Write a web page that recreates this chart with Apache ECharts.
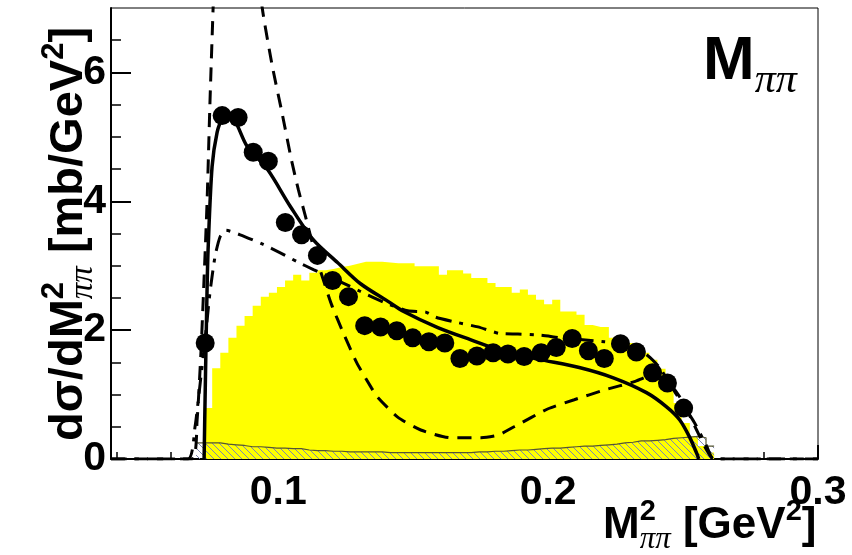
<!DOCTYPE html>
<html>
<head>
<meta charset="utf-8">
<script src="https://cdn.jsdelivr.net/npm/echarts@6/dist/echarts.min.js"></script>
<style>html,body{margin:0;padding:0;background:#fff}#c{width:852px;height:555px}</style>
</head>
<body>
<div id="c"></div>
<script>
// ---------- data ----------
const binWidth = 0.003;
const yellowStart = 0.0725;
const yellowHeights = [0.79,1.41,1.65,1.88,2.07,2.22,2.38,2.52,2.58,2.67,2.77,2.86,2.77,2.89,2.93,2.95,2.98,3.0,3.03,3.06,3.06,3.06,3.05,3.04,3.04,3.04,2.99,2.99,2.99,2.86,2.93,2.93,2.88,2.81,2.81,2.73,2.67,2.67,2.58,2.63,2.55,2.47,2.40,2.47,2.29,2.29,2.24,2.08,2.05,2.05,1.88,1.85,1.80,1.74,1.65,1.54,1.40,1.28,0.87,0.56,0.35,0.20,0.10];
const hatchStart = 0.0695;
const hatchHeights = [0.25,0.25,0.25,0.23,0.22,0.21,0.19,0.19,0.18,0.17,0.17,0.16,0.16,0.14,0.13,0.13,0.12,0.12,0.11,0.11,0.11,0.11,0.11,0.10,0.10,0.10,0.10,0.10,0.10,0.10,0.10,0.10,0.10,0.10,0.11,0.11,0.12,0.12,0.13,0.14,0.14,0.15,0.16,0.17,0.17,0.18,0.19,0.20,0.20,0.21,0.22,0.23,0.25,0.26,0.28,0.28,0.29,0.30,0.32,0.33,0.34,0.35,0.33,0.20];

const pointsX = [0.0729,0.0792,0.0851,0.0907,0.0963,0.1026,0.1086,0.1145,0.1201,0.1260,0.1320,0.1379,0.1439,0.1498,0.1558,0.1617,0.1673,0.1736,0.1796,0.1851,0.1911,0.1974,0.2030,0.2089,0.2149,0.2208,0.2268,0.2327,0.2387,0.2442,0.2502];
const pointsY = [1.80,5.33,5.30,4.76,4.62,3.67,3.48,3.16,2.77,2.52,2.07,2.05,1.99,1.88,1.82,1.80,1.56,1.60,1.65,1.63,1.59,1.65,1.73,1.87,1.68,1.56,1.79,1.66,1.34,1.18,0.79];

const solidX = [0.0725,0.07286,0.07323,0.0736,0.07398,0.07546,0.07732,0.07918,0.08141,0.08401,0.08848,0.09591,0.10446,0.11301,0.12193,0.13048,0.14052,0.14647,0.15911,0.17138,0.18364,0.19628,0.21152,0.22416,0.23643,0.24387,0.2487,0.25242,0.25502,0.2558];
const solidY = [0,0.92,1.80,2.63,3.25,4.54,5.07,5.27,5.32,5.24,4.85,4.50,3.92,3.40,3.05,2.72,2.45,2.29,2.04,1.85,1.67,1.55,1.42,1.26,1.03,0.81,0.61,0.34,0.09,0];

const dashedX = [0.038,0.068,0.0699,0.07138,0.07249,0.07361,0.07472,0.07584,0.07695,0.07918,0.08216,0.08587,0.08959,0.09405,0.09777,0.10149,0.10483,0.10743,0.11004,0.11264,0.11561,0.11970,0.12416,0.12900,0.13457,0.13680,0.14424,0.15279,0.16394,0.17509,0.18141,0.18736,0.2,0.20967,0.22082,0.23197,0.23829,0.24387,0.24944,0.25502,0.25874,0.26134,0.3];
const dashedY = [0,0,0.6,1.7,2.8,4.0,5.6,7.0,8.3,9.5,10.0,9.6,8.7,7.0,6.1,5.35,4.65,4.18,3.77,3.35,2.92,2.40,1.95,1.50,1.10,0.96,0.65,0.45,0.33,0.33,0.37,0.50,0.78,0.92,1.07,1.20,1.30,1.23,0.92,0.45,0.14,0,0];

const dashdotX = [0.038,0.06654,0.06914,0.07138,0.07323,0.07472,0.07658,0.07844,0.08067,0.08587,0.09442,0.10074,0.10706,0.11301,0.12305,0.13048,0.13978,0.14796,0.15465,0.15836,0.16506,0.17398,0.18178,0.18885,0.1974,0.20483,0.22082,0.229,0.23643,0.24126,0.24758,0.25428,0.25874,0.26134,0.3];
const dashdotY = [0,0,0.5,1.3,2.0,2.6,3.15,3.45,3.55,3.48,3.33,3.2,3.06,2.94,2.75,2.6,2.42,2.3,2.28,2.2,2.13,2.05,1.95,1.94,1.92,1.88,1.82,1.78,1.62,1.42,1.0,0.56,0.2,0,0];

const xMajorTicks = [0.1,0.2,0.3];
const xMinorTicks = [0.04,0.06,0.08,0.12,0.14,0.16,0.18,0.22,0.24,0.26,0.28];
const yMajorTicks = [0,2,4,6];
const yMinorTicks = [0.5,1,1.5,2.5,3,3.5,4.5,5,5.5,6.5];

// ---------- helpers ----------
function stepData(start, w, hs) {
  const d = hs.map((h, i) => [start + i * w, h]);
  d.push([start + hs.length * w, hs[hs.length - 1]]);
  return d;
}
function zip(xs, ys) { return xs.map((x, i) => [x, ys[i]]); }

const hatch = document.createElement('canvas');
hatch.width = 7; hatch.height = 7;
(function(){
  const c = hatch.getContext('2d');
  c.strokeStyle = '#8088b0'; c.lineWidth = 1;
  c.beginPath();
  c.moveTo(0,0); c.lineTo(7,7);
  c.moveTo(-1,6); c.lineTo(1,8);
  c.moveTo(6,-1); c.lineTo(8,1);
  c.stroke();
})();

const mctx = document.createElement('canvas').getContext('2d');
const SANS = '"Liberation Sans", Arial, Helvetica, sans-serif';
const SERIF = '"Liberation Serif", "Times New Roman", serif';
function fontStr(p) { return (p.italic ? 'italic ' : '') + (p.bold ? 'bold ' : '') + p.size + 'px ' + (p.serif ? SERIF : SANS); }
// pieces laid out along local x from 0, baseline at local y = 0
function layout(pieces) {
  let x = 0; const els = [];
  pieces.forEach(p => {
    const f = fontStr(p);
    mctx.font = f;
    const w = mctx.measureText(p.t).width;
    els.push({
      type: 'text', x: x, y: (p.dy || 0) - 0.345 * p.size,
      style: { text: p.t, font: f, fill: '#000', textAlign: 'left', textVerticalAlign: 'middle', verticalAlign: 'middle' }
    });
    if (!p.stay) x += (p.adv != null ? p.adv : w);
  });
  return els;
}

// ---------- chart ----------
const chart = echarts.init(document.getElementById('c'), null, { renderer: 'canvas', width: 852, height: 555 });

const YF = 47;   // y title font
const XF = 44;   // x title font
const yTitle = layout([
  { t: 'dσ/dM', size: YF, bold: true },
  { t: '2', size: 31, bold: true, dy: -20, stay: true },
  { t: 'ππ', size: 33, italic: true, serif: true, dy: 10 },
  { t: ' [mb/GeV', size: YF, bold: true },
  { t: '2', size: 31, bold: true, dy: -20 },
  { t: ']', size: YF, bold: true }
]);
const xTitle = layout([
  { t: 'M', size: XF, bold: true },
  { t: '2', size: 29, bold: true, dy: -19, stay: true },
  { t: 'ππ', size: 31, italic: true, serif: true, dy: 10 },
  { t: ' [GeV', size: XF, bold: true },
  { t: '2', size: 29, bold: true, dy: -19 },
  { t: ']', size: XF, bold: true }
]);
const mLabel = layout([
  { t: 'M', size: 62, bold: true },
  { t: 'ππ', size: 42, italic: true, serif: true, dy: 12 }
]);

const labelFont = { fontFamily: SANS, fontWeight: 'bold', fontSize: 41, color: '#000' };

const option = {
  animation: false,
  backgroundColor: '#fff',
  grid: { left: 111, right: 34, top: 8, bottom: 96, show: true, borderColor: '#000', borderWidth: 1, backgroundColor: 'transparent' },
  xAxis: [
    { type: 'value', min: 0.038, max: 0.3, position: 'bottom',
      axisLine: { show: true, onZero: false, lineStyle: { color: '#000', width: 2 } },
      axisTick: { show: true, inside: true, length: 14, lineStyle: { color: '#000', width: 2 }, customValues: xMajorTicks },
      axisLabel: Object.assign({ show: true, margin: 13, customValues: xMajorTicks, formatter: v => String(+v.toFixed(2)) }, labelFont),
      splitLine: { show: false } },
    { type: 'value', min: 0.038, max: 0.3, position: 'bottom',
      axisLine: { show: false },
      axisTick: { show: true, inside: true, length: 7, lineStyle: { color: '#000', width: 1.5 }, customValues: xMinorTicks },
      axisLabel: { show: false }, splitLine: { show: false } }
  ],
  yAxis: [
    { type: 'value', min: 0, max: 7, position: 'left',
      axisLine: { show: true, onZero: false, lineStyle: { color: '#000', width: 2 } },
      axisTick: { show: true, inside: true, length: 20, lineStyle: { color: '#000', width: 2 }, customValues: yMajorTicks },
      axisLabel: Object.assign({ show: true, margin: 5, customValues: yMajorTicks }, labelFont),
      splitLine: { show: false } },
    { type: 'value', min: 0, max: 7, position: 'left',
      axisLine: { show: false },
      axisTick: { show: true, inside: true, length: 10, lineStyle: { color: '#000', width: 1.5 }, customValues: yMinorTicks },
      axisLabel: { show: false }, splitLine: { show: false } }
  ],
  series: [
    { type: 'line', name: 'phase space', step: 'end', data: stepData(yellowStart, binWidth, yellowHeights),
      showSymbol: false, lineStyle: { width: 0, color: '#ffff00' }, areaStyle: { color: '#ffff00', opacity: 1 }, z: 1 },
    { type: 'line', name: 'background', step: 'end', data: stepData(hatchStart, binWidth, hatchHeights),
      showSymbol: false, lineStyle: { width: 1.2, color: '#555533' }, areaStyle: { color: { image: hatch, repeat: 'repeat' }, opacity: 1 }, z: 2 },
    { type: 'line', name: 'dashed', data: zip(dashedX, dashedY), showSymbol: false, smooth: 0.2, clip: true,
      lineStyle: { color: '#000', width: 3, type: [14, 9] }, z: 3 },
    { type: 'line', name: 'dashdot', data: zip(dashdotX, dashdotY), showSymbol: false, smooth: 0.2, clip: true,
      lineStyle: { color: '#000', width: 3, type: [16, 8, 4, 8] }, z: 3 },
    { type: 'line', name: 'fit', data: zip(solidX, solidY), showSymbol: false, smooth: 0.3, clip: true,
      lineStyle: { color: '#000', width: 3.5 }, z: 4 },
    { type: 'scatter', name: 'data', data: zip(pointsX, pointsY), symbol: 'circle', symbolSize: 19,
      itemStyle: { color: '#000', opacity: 1 }, z: 5 }
  ],
  graphic: [
    { type: 'group', x: 85, y: 441, rotation: Math.PI / 2, children: yTitle },
    { type: 'group', x: 603, y: 541, children: xTitle },
    { type: 'group', x: 703, y: 83, children: mLabel }
  ]
};
chart.setOption(option);
</script>
</body>
</html>
